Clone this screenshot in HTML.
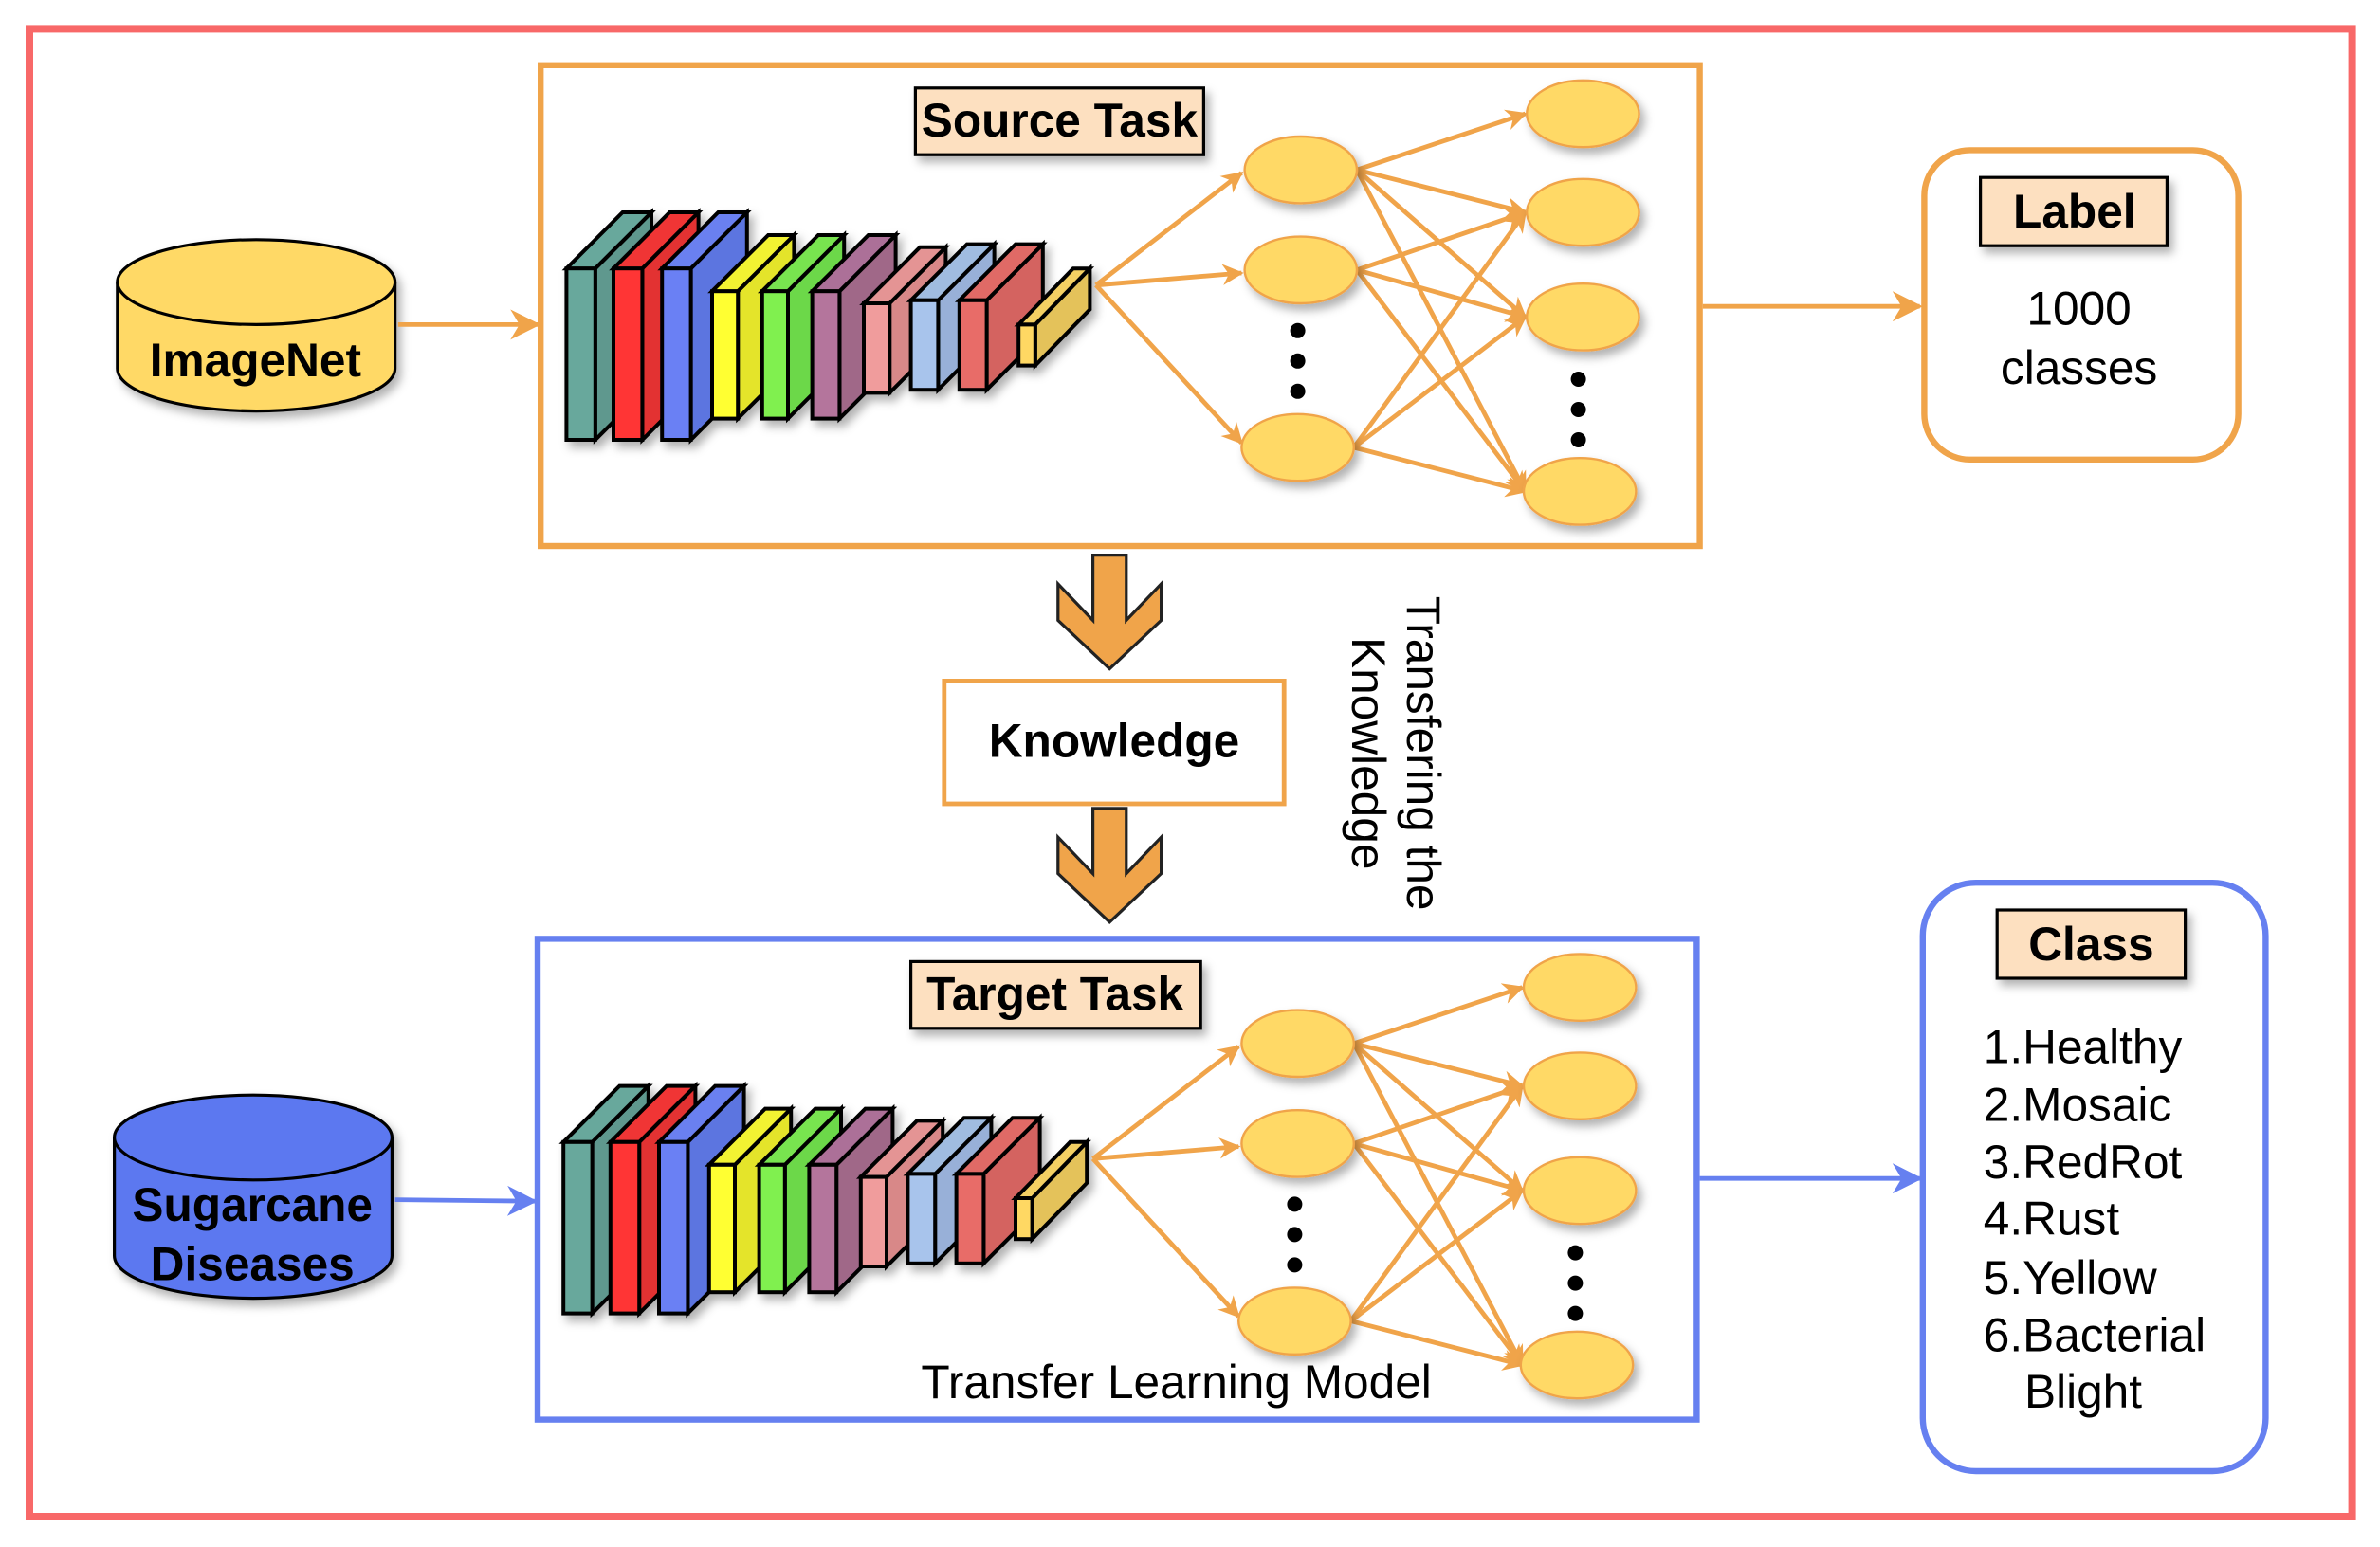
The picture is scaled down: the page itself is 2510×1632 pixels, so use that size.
<!DOCTYPE html>
<html><head><meta charset="utf-8"><style>
html,body{margin:0;padding:0;background:#fff;}
svg{display:block;}
text{font-family:"Liberation Sans",Arial,sans-serif;}
</style></head><body>
<svg width="2510" height="1632" viewBox="0 0 1568 1020" xmlns="http://www.w3.org/2000/svg">
<defs>
<filter id="sh" x="-20%" y="-20%" width="150%" height="150%"><feDropShadow dx="3" dy="4" stdDeviation="3" flood-color="#000" flood-opacity="0.3"/></filter>
<marker id="ao" viewBox="0 0 10 10" refX="9" refY="5" markerWidth="14" markerHeight="14" orient="auto" markerUnits="userSpaceOnUse"><path d="M0,0 L10,5 L0,10 L3,5 Z" fill="#f0a44a"/></marker>
<marker id="ao2" viewBox="0 0 10 10" refX="9" refY="5" markerWidth="20" markerHeight="20" orient="auto" markerUnits="userSpaceOnUse"><path d="M0,0 L10,5 L0,10 L3,5 Z" fill="#f0a44a"/></marker>
<marker id="ab2" viewBox="0 0 10 10" refX="9" refY="5" markerWidth="20" markerHeight="20" orient="auto" markerUnits="userSpaceOnUse"><path d="M0,0 L10,5 L0,10 L3,5 Z" fill="#6680f0"/></marker>
<g id="cnn" stroke="#000" stroke-width="2.5" stroke-linejoin="miter" transform="translate(-2,0)">
 <g filter="url(#sh)">
 <polygon points="394,177 431,140 431,253 394,290" fill="#5e988e"/><polygon points="375,177 412,140 431,140 394,177" fill="#68a89c"/><rect x="375" y="177" width="19" height="113" fill="#68a89c"/>
 <polygon points="425,177 462,140 462,253 425,290" fill="#e33030"/><polygon points="406,177 443,140 462,140 425,177" fill="#f03434"/><rect x="406" y="177" width="19" height="113" fill="#ff3434"/>
 <polygon points="457,177 494,140 494,253 457,290" fill="#5c74e0"/><polygon points="438,177 475,140 494,140 457,177" fill="#6a80f0"/><rect x="438" y="177" width="19" height="113" fill="#6a80f4"/>
 <polygon points="488,192 525,155 525,239 488,276" fill="#e4e42a"/><polygon points="471,192 508,155 525,155 488,192" fill="#f2f230"/><rect x="471" y="192" width="17" height="84" fill="#ffff30"/>
 <polygon points="521,192 558,155 558,239 521,276" fill="#6cd84a"/><polygon points="504,192 541,155 558,155 521,192" fill="#78e450"/><rect x="504" y="192" width="17" height="84" fill="#80f050"/>
 <polygon points="555,192 592,155 592,239 555,276" fill="#a06888"/><polygon points="537,192 574,155 592,155 555,192" fill="#ac7098"/><rect x="537" y="192" width="18" height="84" fill="#b4749c"/>
 <polygon points="588,200 625,163 625,222 588,259" fill="#d88888"/><polygon points="571,200 608,163 625,163 588,200" fill="#e49494"/><rect x="571" y="200" width="17" height="59" fill="#f09c9c"/>
 <polygon points="620,198 657,161 657,220 620,257" fill="#98b0d8"/><polygon points="602,198 639,161 657,161 620,198" fill="#a0bce0"/><rect x="602" y="198" width="18" height="59" fill="#a8c4ec"/>
 <polygon points="652,198 689,161 689,220 652,257" fill="#d46460"/><polygon points="634,198 671,161 689,161 652,198" fill="#e06a66"/><rect x="634" y="198" width="18" height="59" fill="#e86c68"/>
 <polygon points="684,214 720,177 720,204 684,241" fill="#e4c25a"/><polygon points="673,214 709,177 720,177 684,214" fill="#f4d064"/><rect x="673" y="214" width="11" height="27" fill="#ffd864"/>
 </g>
</g>
<g id="net">
 <g stroke="#f0a44a" stroke-width="3" fill="none" marker-end="url(#ao)">
  <line x1="722" y1="188" x2="818" y2="114"/><line x1="722" y1="188" x2="818" y2="180"/><line x1="722" y1="188" x2="818" y2="292"/>
  <line x1="894" y1="112" x2="1005" y2="75"/><line x1="894" y1="112" x2="1005" y2="140"/><line x1="894" y1="112" x2="1005" y2="209"/><line x1="894" y1="112" x2="1005" y2="324"/>
  <line x1="894" y1="178" x2="1005" y2="140"/><line x1="894" y1="178" x2="1005" y2="209"/><line x1="894" y1="178" x2="1005" y2="324"/>
  <line x1="892" y1="295" x2="1005" y2="140"/><line x1="892" y1="295" x2="1005" y2="209"/><line x1="892" y1="295" x2="1005" y2="324"/>
 </g>
 <g fill="#ffd966" stroke="#f0a44a" stroke-width="1.5" filter="url(#sh)">
  <ellipse cx="857" cy="112" rx="37" ry="22"/><ellipse cx="857" cy="178" rx="37" ry="22"/><ellipse cx="855" cy="295" rx="37" ry="22"/>
  <ellipse cx="1043" cy="75" rx="37" ry="22"/><ellipse cx="1043" cy="140" rx="37" ry="22"/><ellipse cx="1043" cy="209" rx="37" ry="22"/><ellipse cx="1041" cy="324" rx="37" ry="22"/>
 </g>
 <g fill="#000"><circle cx="855" cy="218" r="5"/><circle cx="855" cy="238" r="5"/><circle cx="855" cy="258" r="5"/>
 <circle cx="1040" cy="250" r="5"/><circle cx="1040" cy="270" r="5"/><circle cx="1040" cy="290" r="5"/></g>
</g>
</defs>
<rect width="1568" height="1020" fill="#fff"/>
<rect x="19" y="19" width="1531" height="981" fill="none" stroke="#f86868" stroke-width="5"/>

<!-- Source -->
<rect x="356" y="43" width="764" height="317" fill="none" stroke="#f0a44a" stroke-width="4"/>
<rect x="603" y="58" width="190" height="44" fill="#fde0c0" stroke="#000" stroke-width="2" filter="url(#sh)"/>
<text x="698" y="90" font-size="31" font-weight="bold" text-anchor="middle">Source Task</text>
<use href="#cnn"/><use href="#net"/>

<!-- Target -->
<rect x="354" y="619" width="764" height="317" fill="none" stroke="#6680f0" stroke-width="4"/>
<rect x="600" y="634" width="191" height="44" fill="#fde0c0" stroke="#000" stroke-width="2" filter="url(#sh)"/>
<text x="695" y="666" font-size="31" font-weight="bold" text-anchor="middle">Target Task</text>
<g transform="translate(-2,576)"><use href="#cnn"/><use href="#net"/></g>
<text x="775" y="922" font-size="31" text-anchor="middle">Transfer Learning Model</text>

<!-- ImageNet cylinder -->
<g filter="url(#sh)">
<path d="M77,186 L77,243 A91.5,28 0 0 0 260,243 L260,186" fill="#ffd966" stroke="#000" stroke-width="2"/>
<ellipse cx="168.5" cy="186" rx="91.5" ry="28" fill="#ffd966" stroke="#000" stroke-width="2"/>
</g>
<text x="168" y="248" font-size="31" font-weight="bold" text-anchor="middle">ImageNet</text>
<line x1="262" y1="214" x2="354" y2="214" stroke="#f0a44a" stroke-width="3" marker-end="url(#ao2)"/>

<!-- Sugarcane cylinder -->
<g filter="url(#sh)">
<path d="M75,750 L75,828 A91.5,28 0 0 0 258,828 L258,750" fill="#5b78f0" stroke="#000" stroke-width="2"/>
<ellipse cx="166.5" cy="750" rx="91.5" ry="28" fill="#5b78f0" stroke="#000" stroke-width="2"/>
</g>
<text x="166" y="805" font-size="31" font-weight="bold" text-anchor="middle">Sugarcane</text>
<text x="166" y="844" font-size="31" font-weight="bold" text-anchor="middle">Diseases</text>
<line x1="260" y1="791" x2="352" y2="792" stroke="#6680f0" stroke-width="3" marker-end="url(#ab2)"/>

<!-- outputs -->
<line x1="1122" y1="202" x2="1265" y2="202" stroke="#f0a44a" stroke-width="3" marker-end="url(#ao2)"/>
<line x1="1120" y1="777" x2="1265" y2="777" stroke="#6680f0" stroke-width="3" marker-end="url(#ab2)"/>

<rect x="1268" y="99" width="207" height="204" rx="30" fill="#fff" stroke="#f0a44a" stroke-width="4"/>
<rect x="1305" y="117" width="123" height="45" fill="#fde0c0" stroke="#000" stroke-width="2" filter="url(#sh)"/>
<text x="1367" y="150" font-size="31" font-weight="bold" text-anchor="middle">Label</text>
<text x="1370" y="214" font-size="31" text-anchor="middle">1000</text>
<text x="1370" y="253" font-size="31" text-anchor="middle">classes</text>

<rect x="1267" y="582" width="226" height="388" rx="35" fill="#fff" stroke="#6680f0" stroke-width="4"/>
<rect x="1316" y="600" width="124" height="45" fill="#fde0c0" stroke="#000" stroke-width="2" filter="url(#sh)"/>
<text x="1378" y="633" font-size="31" font-weight="bold" text-anchor="middle">Class</text>
<g font-size="31">
<text x="1307" y="701">1.Healthy</text>
<text x="1307" y="739">2.Mosaic</text>
<text x="1307" y="777">3.RedRot</text>
<text x="1307" y="814">4.Rust</text>
<text x="1307" y="853">5.Yellow</text>
<text x="1307" y="891">6.Bacterial</text>
<text x="1334" y="928">Blight</text>
</g>

<!-- knowledge -->
<polygon points="720,366 742,366 742,409 765,385 765,409 731,441 697,409 697,385 720,409" fill="#f0a44a" stroke="#222" stroke-width="2"/>
<polygon points="720,533 742,533 742,576 765,552 765,576 731,608 697,576 697,552 720,576" fill="#f0a44a" stroke="#222" stroke-width="2"/>
<rect x="622" y="449" width="224" height="81" fill="#fff" stroke="#f0a44a" stroke-width="3"/>
<text x="734" y="499" font-size="31" font-weight="bold" text-anchor="middle">Knowledge</text>
<text transform="translate(927,393) rotate(90)" font-size="31">Transfering the</text>
<text transform="translate(891,420) rotate(90)" font-size="31">Knowledge</text>
</svg>
</body></html>
